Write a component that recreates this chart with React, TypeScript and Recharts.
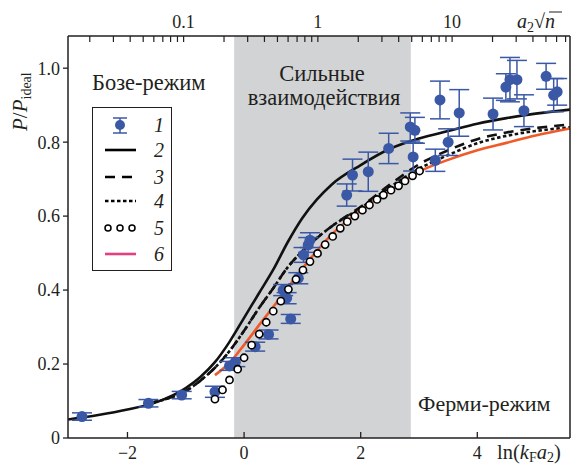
import React from "react";
import {
  ComposedChart,
  Line,
  Scatter,
  ErrorBar,
  XAxis,
  YAxis,
  ReferenceArea,
} from "recharts";

// experiment (1): ln(kF a2), P/Pideal, error
const EXP_X = [-2.78, -1.64, -1.07, -0.5, -0.25, -0.15, 0.19, 0.42, 0.8, 0.67, 0.73, 0.93, 1.02, 1.1, 1.13, 1.76, 1.86, 2.13, 2.48, 2.85, 2.93, 2.9, 3.28, 3.36, 3.5, 3.69, 4.27, 4.49, 4.56, 4.68, 4.8, 5.18, 5.31, 5.37];
const EXP_Y = [0.058, 0.094, 0.116, 0.125, 0.195, 0.205, 0.247, 0.28, 0.322, 0.4, 0.378, 0.432, 0.495, 0.522, 0.535, 0.657, 0.711, 0.72, 0.783, 0.841, 0.832, 0.76, 0.751, 0.914, 0.8, 0.879, 0.876, 0.949, 0.969, 0.969, 0.885, 0.978, 0.927, 0.936];
const EXP_ERR = [0.01, 0.01, 0.01, 0.015, 0.012, 0.012, 0.012, 0.012, 0.012, 0.015, 0.015, 0.015, 0.02, 0.02, 0.02, 0.03, 0.043, 0.053, 0.041, 0.038, 0.035, 0.038, 0.03, 0.051, 0.036, 0.063, 0.043, 0.036, 0.06, 0.052, 0.043, 0.035, 0.045, 0.036];

// theory (2) solid
const SOLID_X = [-3.02, -2.5, -2, -1.5, -1, -0.75, -0.5, -0.25, 0, 0.25, 0.5, 0.75, 1, 1.25, 1.5, 2, 2.5, 3, 3.5, 4, 4.5, 5, 5.59];
const SOLID_Y = [0.05, 0.062, 0.077, 0.097, 0.135, 0.165, 0.205, 0.26, 0.325, 0.39, 0.455, 0.53, 0.595, 0.645, 0.685, 0.738, 0.782, 0.81, 0.83, 0.85, 0.865, 0.877, 0.888];

// theory (3) dashed
const DASH_X = [-1.64, -1.25, -1, -0.75, -0.5, -0.25, 0, 0.25, 0.5, 0.75, 1, 1.5, 2, 2.5, 3, 3.5, 4, 4.5, 5, 5.59];
const DASH_Y = [0.094, 0.11, 0.127, 0.155, 0.19, 0.235, 0.29, 0.35, 0.405, 0.462, 0.505, 0.572, 0.625, 0.685, 0.74, 0.778, 0.808, 0.826, 0.838, 0.848];

// theory (4) dotted
const DOT_X = [-1.64, -1.25, -1, -0.75, -0.5, -0.25, 0, 0.25, 0.5, 0.75, 1, 1.5, 2, 2.5, 3, 3.5, 4, 4.5, 5, 5.59];
const DOT_Y = [0.094, 0.11, 0.127, 0.155, 0.19, 0.235, 0.29, 0.35, 0.405, 0.462, 0.505, 0.572, 0.622, 0.678, 0.728, 0.765, 0.797, 0.817, 0.83, 0.84];

// theory (5) open circles
const CIRC_X = [-0.5, -0.37, -0.25, -0.11, 0, 0.13, 0.26, 0.38, 0.5, 0.63, 0.76, 0.89, 1.01, 1.13, 1.26, 1.39, 1.52, 1.65, 1.77, 1.9, 2.03, 2.15, 2.28, 2.39, 2.52, 2.65, 2.76, 2.89, 3.01];
const CIRC_Y = [0.105, 0.13, 0.157, 0.186, 0.217, 0.251, 0.281, 0.313, 0.343, 0.37, 0.402, 0.429, 0.454, 0.477, 0.499, 0.523, 0.545, 0.567, 0.585, 0.6, 0.616, 0.63, 0.645, 0.657, 0.67, 0.682, 0.695, 0.709, 0.722];

// theory (6) orange
const ORANGE_X = [-0.5, -0.27, 0.02, 0.3, 0.59, 1, 1.5, 2, 2.5, 3, 3.5, 4, 4.5, 5, 5.59];
const ORANGE_Y = [0.17, 0.2, 0.256, 0.314, 0.373, 0.458, 0.55, 0.615, 0.668, 0.72, 0.752, 0.778, 0.798, 0.818, 0.837];

const X_TICKS = [-2, 0, 2, 4];
const Y_TICKS = [0, 0.2, 0.4, 0.6, 0.8, 1.0];
const TOP_VALUES = [0.02, 0.03, 0.04, 0.05, 0.06, 0.07, 0.08, 0.09, 0.1, 0.2, 0.3, 0.4, 0.5, 0.6, 0.7, 0.8, 0.9, 1, 2, 3, 4, 5, 6, 7, 8, 9, 10, 20, 30, 40, 50, 60, 70];
const TOP_LABELED = [0.1, 1, 10];
const STRONG_BAND = [-0.17, 2.86];

const X_DOMAIN: [number, number] = [-3.02, 5.59];
const Y_DOMAIN: [number, number] = [0, 1.087];
// ln(kF a2) = ln(a2 sqrt(n)) + ln(sqrt(4 pi))
const SHIFT = Math.log(Math.sqrt(4 * Math.PI));

const zip = (xs: number[], ys: number[]) => xs.map((x, i) => ({ x, y: ys[i] }));
const expData = EXP_X.map((x, i) => ({ x, y: EXP_Y[i], err: EXP_ERR[i] }));
const topTicks = TOP_VALUES.map((v) => Math.log(v) + SHIFT);

const INK = "#231f20";
const BLUE = "#3a58a6";
const ORANGE = "#f05a28";
const PINK = "#e2407f";
const FONT = "Liberation Serif, Times New Roman, Tinos, DejaVu Serif, Noto Serif, serif";
const TOP = 36;
const BOTTOM = 438;

const fmtX = (v: number) => (v < 0 ? "\u2212" + Math.abs(v) : String(v));

function BottomTick(props: any) {
  const { x, payload } = props;
  return (
    <g>
      <line x1={x} x2={x} y1={BOTTOM} y2={BOTTOM - 6} stroke={INK} strokeWidth={1.3} />
      <text x={x} y={459} textAnchor="middle" fontSize={18} fontFamily={FONT} fill={INK}>
        {fmtX(payload.value)}
      </text>
    </g>
  );
}

function TopTick(props: any) {
  const { x, payload } = props;
  const v = Math.exp(payload.value - SHIFT);
  const label = TOP_LABELED.find((l) => Math.abs(l - v) / l < 1e-6);
  return (
    <g>
      <line x1={x} x2={x} y1={TOP} y2={TOP + 6} stroke={INK} strokeWidth={1.2} />
      {label !== undefined && (
        <text x={x} y={28} textAnchor="middle" fontSize={18} fontFamily={FONT} fill={INK}>
          {String(label)}
        </text>
      )}
    </g>
  );
}

const BlueDot = (p: any) => <circle cx={p.cx} cy={p.cy} r={5.5} fill={BLUE} />;
const OpenDot = (p: any) => (
  <circle cx={p.cx} cy={p.cy} r={3.6} fill="#fff" stroke="#000" strokeWidth={1.6} />
);

function Overlay() {
  const t = { fontFamily: FONT, fill: INK };
  return (
    <svg
      width={572}
      height={464}
      style={{ position: "absolute", left: 0, top: 0, pointerEvents: "none" }}
    >
      <text x={92} y={90} fontSize={22.5} {...t}>Бозе-режим</text>
      <text x={322} y={81} fontSize={22.5} textAnchor="middle" {...t}>Сильные</text>
      <text x={324} y={105} fontSize={22.5} textAnchor="middle" {...t}>взаимодействия</text>
      <text x={418} y={411} fontSize={22} {...t}>Ферми-режим</text>

      <g transform="translate(27,131) rotate(-90)">
        <text x={0} y={0} fontSize={21} {...t}>
          <tspan fontStyle="italic">P</tspan>
          <tspan>/</tspan>
          <tspan fontStyle="italic">P</tspan>
          <tspan fontSize={14} dy={4}>ideal</tspan>
        </text>
      </g>

      <text x={517} y={28} fontSize={20} {...t}>
        <tspan fontStyle="italic">a</tspan>
        <tspan fontSize={14} dy={4}>2</tspan>
        <tspan dy={-4}>√</tspan>
        <tspan fontStyle="italic">n</tspan>
      </text>
      <line x1={549} x2={562} y1={12} y2={12} stroke={INK} strokeWidth={1} />

      <text x={497} y={459} fontSize={20.5} {...t}>
        <tspan>ln(</tspan>
        <tspan fontStyle="italic">k</tspan>
        <tspan fontSize={14} dy={3}>F</tspan>
        <tspan fontStyle="italic" dy={-3}>a</tspan>
        <tspan fontSize={14} dy={3}>2</tspan>
        <tspan dy={-3}>)</tspan>
      </text>

      <g transform="translate(92,107)">
        <rect x={0.5} y={0.5} width={79} height={163} fill="#fff" stroke={INK} strokeWidth={1} />
        <line x1={28} x2={28} y1={11} y2={26} stroke={BLUE} strokeWidth={1.5} />
        <line x1={21} x2={35} y1={11} y2={11} stroke={BLUE} strokeWidth={1.5} />
        <line x1={21} x2={35} y1={26} y2={26} stroke={BLUE} strokeWidth={1.5} />
        <circle cx={28} cy={18} r={5} fill={BLUE} />
        <line x1={13} x2={44} y1={43} y2={43} stroke="#000" strokeWidth={2.6} />
        <line x1={13} x2={44} y1={70} y2={70} stroke="#000" strokeWidth={2.6} strokeDasharray="10 7" />
        <line x1={13} x2={44} y1={94} y2={94} stroke="#000" strokeWidth={2.6} strokeDasharray="3.5 2.5" />
        <circle cx={16} cy={121} r={3} fill="#fff" stroke="#000" strokeWidth={1.5} />
        <circle cx={28} cy={121} r={3} fill="#fff" stroke="#000" strokeWidth={1.5} />
        <circle cx={40} cy={121} r={3} fill="#fff" stroke="#000" strokeWidth={1.5} />
        <line x1={13} x2={44} y1={147} y2={147} stroke={PINK} strokeWidth={2.6} />
        {["1", "2", "3", "4", "5", "6"].map((s, i) => (
          <text
            key={s}
            x={62}
            y={[18, 43, 70, 94, 121, 147][i] + 7}
            fontSize={20}
            fontStyle="italic"
            {...t}
          >
            {s}
          </text>
        ))}
      </g>
    </svg>
  );
}

export default function App() {
  return (
    <div style={{ position: "absolute", left: 0, top: 0, width: 572, height: 464, background: "#fff" }}>
      <ComposedChart
        width={572}
        height={464}
        margin={{ top: 6, right: 0, bottom: 0, left: 8 }}
      >
        <XAxis
          xAxisId="b"
          type="number"
          dataKey="x"
          domain={X_DOMAIN}
          allowDataOverflow
          ticks={X_TICKS}
          interval={0}
          height={26}
          tickLine={false}
          tick={<BottomTick />}
          axisLine={{ stroke: INK, strokeWidth: 1.5 }}
        />
        <XAxis
          xAxisId="t"
          orientation="top"
          type="number"
          dataKey="x"
          domain={X_DOMAIN}
          allowDataOverflow
          ticks={topTicks}
          interval={0}
          height={30}
          tickLine={false}
          tick={<TopTick />}
          axisLine={{ stroke: INK, strokeWidth: 1.5 }}
        />
        <YAxis
          yAxisId="l"
          type="number"
          domain={Y_DOMAIN}
          allowDataOverflow
          ticks={Y_TICKS}
          interval={0}
          width={60}
          tickSize={5}
          tickMargin={3}
          tickFormatter={(v: number) => (v === 0 ? "0" : v.toFixed(1))}
          tick={{ fontSize: 18, fontFamily: FONT, fill: INK }}
          tickLine={{ stroke: INK, strokeWidth: 1.3 }}
          axisLine={{ stroke: INK, strokeWidth: 1.5 }}
        />
        <YAxis
          yAxisId="r"
          orientation="right"
          type="number"
          domain={Y_DOMAIN}
          allowDataOverflow
          width={2}
          tick={false}
          tickLine={false}
          axisLine={{ stroke: INK, strokeWidth: 1.5 }}
        />
        <ReferenceArea
          xAxisId="b"
          yAxisId="l"
          x1={STRONG_BAND[0]}
          x2={STRONG_BAND[1]}
          y1={Y_DOMAIN[0]}
          y2={Y_DOMAIN[1]}
          fill="#d1d3d4"
          fillOpacity={1}
          stroke="none"
        />
        <Line xAxisId="b" yAxisId="l" data={zip(SOLID_X, SOLID_Y)} dataKey="y" type="monotone" dot={false} stroke="#111" strokeWidth={2.6} isAnimationActive={false} />
        <Line xAxisId="t" yAxisId="r" data={zip(DASH_X, DASH_Y)} dataKey="y" type="monotone" dot={false} stroke="#111" strokeWidth={2.6} strokeDasharray="10 7" isAnimationActive={false} />
        <Line xAxisId="b" yAxisId="l" data={zip(DOT_X, DOT_Y)} dataKey="y" type="monotone" dot={false} stroke="#111" strokeWidth={2.6} strokeDasharray="3.5 2.5" isAnimationActive={false} />
        <Line xAxisId="b" yAxisId="l" data={zip(ORANGE_X, ORANGE_Y)} dataKey="y" type="monotone" dot={false} stroke={ORANGE} strokeWidth={2.6} isAnimationActive={false} />
        <Scatter xAxisId="b" yAxisId="l" data={expData} dataKey="y" shape={BlueDot} isAnimationActive={false}>
          <ErrorBar dataKey="err" direction="y" width={10} stroke={BLUE} strokeWidth={1.5} />
        </Scatter>
        <Scatter xAxisId="b" yAxisId="l" data={zip(CIRC_X, CIRC_Y)} dataKey="y" shape={OpenDot} isAnimationActive={false} />
      </ComposedChart>
      <Overlay />
    </div>
  );
}
